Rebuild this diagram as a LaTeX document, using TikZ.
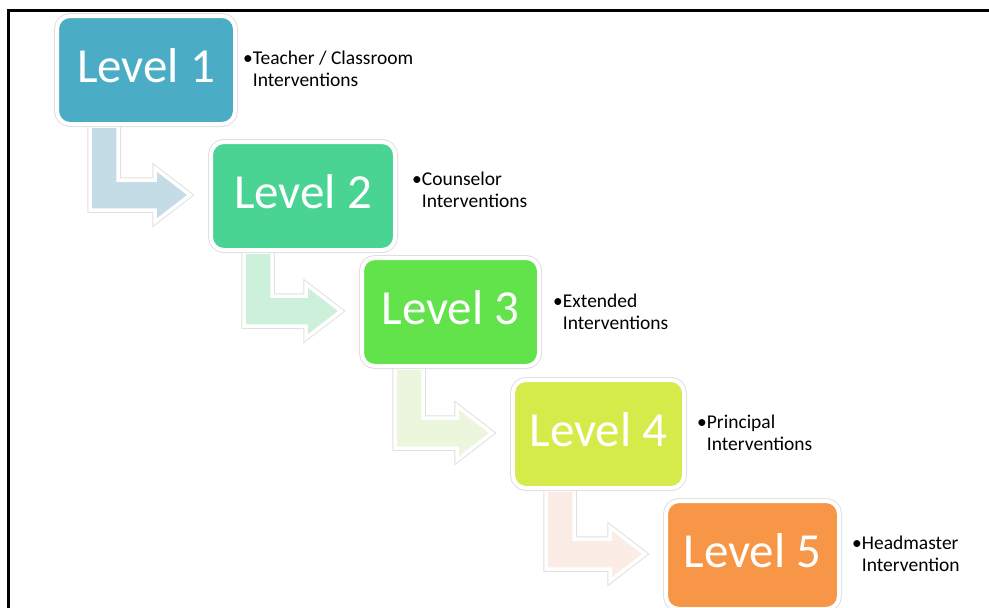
\documentclass[tikz,border=0pt]{standalone}
\usepackage{fontspec}
\setmainfont{Carlito}
\usetikzlibrary{calc,backgrounds}

\definecolor{lvlA}{HTML}{4BACC6}
\definecolor{lvlB}{HTML}{4AD493}
\definecolor{lvlC}{HTML}{62E24B}
\definecolor{lvlD}{HTML}{D5EB4A}
\definecolor{lvlE}{HTML}{F79646}
\definecolor{arrA}{HTML}{C3DCE5}
\definecolor{arrB}{HTML}{CDF0DA}
\definecolor{arrC}{HTML}{ECF6DC}
\definecolor{arrD}{HTML}{FBECE6}

\begin{document}
\begin{tikzpicture}[x=1pt,y=-1pt,
    level/.style={rounded corners=13pt,minimum height=108pt,inner sep=0pt,outer sep=0pt,
                  text=white,text depth=9pt,font=\fontsize{49}{58}\selectfont,
                  preaction={draw=black!12,line width=6pt},draw=white,line width=4pt},
    bentarrow/.style={preaction={draw=black!12,line width=5.5pt},draw=white,line width=3.5pt},
    note/.style={anchor=base west,align=left,inner sep=0pt,font=\fontsize{19.5}{22}\selectfont}]
  \useasboundingbox (0,0) rectangle (989,608);
  \draw[line width=3pt] (8.5,608) -- (8.5,10.5) -- (989,10.5);

  % the five levels
  \path (146,70)    node[level,fill=lvlA,minimum width=178pt] (L1) {Level 1}
        (303,196)   node[level,fill=lvlB,minimum width=184pt] (L2) {Level 2}
        (450.5,312) node[level,fill=lvlC,minimum width=177pt] (L3) {Level 3}
        (598.5,434) node[level,fill=lvlD,minimum width=171pt] (L4) {Level 4}
        (752.5,555) node[level,fill=lvlE,minimum width=173pt] (L5) {Level 5};

  % bent arrows, drawn under the boxes
  \begin{pgfonlayer}{background}
  \foreach \a/\b/\c in {L1/L2/arrA,L2/L3/arrB,L3/L4/arrC,L4/L5/arrD}{
    \coordinate (p) at ($(\a.south west)+(33,2)$);
    \coordinate (q) at ($(\a.south west)+(61,2)$);
    \coordinate (t) at ($(\b.west)+(-21,-1)$);
    \draw[bentarrow,fill=\c] (p) -- ($(p |- t)+(0,15)$) -- ($(t)+(-35,15)$)
      -- ($(t)+(-35,27)$) -- (t) -- ($(t)+(-35,-27)$) -- ($(t)+(-35,-15)$)
      -- ($(q |- t)+(0,-15)$) -- (q) -- cycle;
  }
  \end{pgfonlayer}

  % notes beside each level (placed at the baseline of their last line)
  \node[note] (N1) at (243,86)  {\textbullet Teacher / Classroom\\\phantom{\textbullet}Interventions};
  \node[note] (N2) at (412,207) {\textbullet Counselor\\\phantom{\textbullet}Interventions};
  \node[note] (N3) at (553,329) {\textbullet Extended\\\phantom{\textbullet}Interventions};
  \node[note] (N4) at (697,450) {\textbullet Principal\\\phantom{\textbullet}Interventions};
  \node[note] (N5) at (852,571) {\textbullet Headmaster\\\phantom{\textbullet}Intervention};
\end{tikzpicture}
\end{document}
